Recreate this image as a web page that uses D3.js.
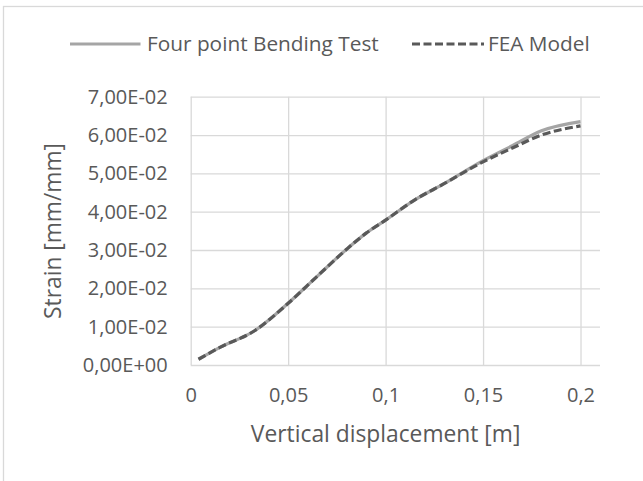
<!DOCTYPE html>
<html>
<head>
<meta charset="utf-8">
<script src="https://cdn.jsdelivr.net/npm/d3@7"></script>
<style>
  body { margin: 0; background: #fff; }
  text { font-family: "Open Sans", sans-serif; fill: #595959; }
</style>
</head>
<body>
<div id="chart"></div>
<script>
const FRAME_WIDTH = 643;
const FRAME_HEIGHT = 481;
const MARGINS = { left: 190.7, right: 43, top: 96.7, bottom: 116 };

const VIS_WIDTH = FRAME_WIDTH - MARGINS.left - MARGINS.right;
const VIS_HEIGHT = FRAME_HEIGHT - MARGINS.top - MARGINS.bottom;

// data
const displacement = [0.004, 0.015, 0.033, 0.05, 0.065, 0.08, 0.09, 0.1, 0.115, 0.13, 0.15, 0.165, 0.18, 0.2];
const testStrain = [0.0015, 0.0046, 0.0090, 0.0161, 0.0232, 0.0302, 0.0344, 0.0378, 0.0431, 0.0473, 0.0533, 0.0572, 0.0611, 0.0635];
const feaStrain = [0.0015, 0.0046, 0.0090, 0.0161, 0.0232, 0.0302, 0.0344, 0.0378, 0.0431, 0.0473, 0.0530, 0.0566, 0.0600, 0.0624];

const xTicks = [0, 0.05, 0.1, 0.15, 0.2];
const xTickLabels = ["0", "0,05", "0,1", "0,15", "0,2"];
const yTicks = [0, 0.01, 0.02, 0.03, 0.04, 0.05, 0.06, 0.07];
const yTickLabels = ["0,00E+00", "1,00E-02", "2,00E-02", "3,00E-02", "4,00E-02", "5,00E-02", "6,00E-02", "7,00E-02"];

const seriesNames = ["Four point Bending Test", "FEA Model"];

const TICK_FONT = "20px";
const TITLE_FONT = "22.8px";
const LEGEND_FONT = "20.8px";

const FRAME = d3.select("#chart")
	.append("svg")
	.attr("width", FRAME_WIDTH)
	.attr("height", FRAME_HEIGHT);

// chart border (only top and left visible)
FRAME.append("rect")
	.attr("x", 3.5)
	.attr("y", 6.5)
	.attr("width", FRAME_WIDTH + 20)
	.attr("height", FRAME_HEIGHT + 20)
	.attr("fill", "none")
	.attr("stroke", "#d9d9d9")
	.attr("stroke-width", 1.3);

const X_SCALE = d3.scaleLinear()
	.domain([0, 0.21])
	.range([0, VIS_WIDTH]);

const Y_SCALE = d3.scaleLinear()
	.domain([0, 0.07])
	.range([VIS_HEIGHT, 0]);

const PLOT = FRAME.append("g")
	.attr("transform", `translate(${MARGINS.left}, ${MARGINS.top})`);

// gridlines
PLOT.append("g")
	.call(d3.axisLeft(Y_SCALE).tickValues(yTicks).tickSize(-VIS_WIDTH).tickFormat(""))
	.call(g => g.select(".domain").remove())
	.selectAll("line")
	.attr("stroke", "#d9d9d9")
	.attr("stroke-width", 1.3);

PLOT.append("g")
	.attr("transform", `translate(0, ${VIS_HEIGHT})`)
	.call(d3.axisBottom(X_SCALE).tickValues(xTicks).tickSize(-VIS_HEIGHT).tickFormat(""))
	.call(g => g.select(".domain").remove())
	.selectAll("line")
	.attr("stroke", "#d9d9d9")
	.attr("stroke-width", 1.3);

// tick labels
const yAxis = PLOT.append("g")
	.call(d3.axisLeft(Y_SCALE).tickValues(yTicks).tickSize(0).tickPadding(23)
		.tickFormat((d, i) => yTickLabels[i]));
yAxis.select(".domain").remove();
yAxis.selectAll("text")
	.style("font-family", "'Open Sans', sans-serif")
	.style("font-size", TICK_FONT)
	.attr("fill", "#595959");

const xAxis = PLOT.append("g")
	.attr("transform", `translate(0, ${VIS_HEIGHT})`)
	.call(d3.axisBottom(X_SCALE).tickValues(xTicks).tickSize(0).tickPadding(23)
		.tickFormat((d, i) => xTickLabels[i]));
xAxis.select(".domain").remove();
xAxis.selectAll("text")
	.style("font-family", "'Open Sans', sans-serif")
	.style("font-size", TICK_FONT)
	.attr("fill", "#595959");

// lines
const testData = displacement.map((d, i) => ({ x: d, y: testStrain[i] }));
const feaData = displacement.map((d, i) => ({ x: d, y: feaStrain[i] }));

const LINE = d3.line()
	.x((d) => X_SCALE(d.x))
	.y((d) => Y_SCALE(d.y))
	.curve(d3.curveMonotoneX);

PLOT.append("path")
	.datum(testData)
	.attr("d", LINE)
	.attr("fill", "none")
	.attr("stroke", "#a5a5a5")
	.attr("stroke-width", 3.2)
	.attr("stroke-linejoin", "round");

PLOT.append("path")
	.datum(feaData)
	.attr("d", LINE)
	.attr("fill", "none")
	.attr("stroke", "#595959")
	.attr("stroke-width", 3.2)
	.attr("stroke-dasharray", "8 3.5");

// legend
const LEGEND = FRAME.append("g");
LEGEND.append("line")
	.attr("x1", 70).attr("x2", 140.5)
	.attr("y1", 44).attr("y2", 44)
	.attr("stroke", "#a5a5a5")
	.attr("stroke-width", 3.2);
LEGEND.append("text")
	.attr("x", 147).attr("y", 44)
	.attr("dy", "0.35em")
	.style("font-size", LEGEND_FONT)
	.text(seriesNames[0]);

LEGEND.append("line")
	.attr("x1", 412).attr("x2", 484)
	.attr("y1", 44).attr("y2", 44)
	.attr("stroke", "#595959")
	.attr("stroke-width", 3.2)
	.attr("stroke-dasharray", "8 3.5");
LEGEND.append("text")
	.attr("x", 488).attr("y", 44)
	.attr("dy", "0.35em")
	.style("font-size", LEGEND_FONT)
	.text(seriesNames[1]);

// axis titles
FRAME.append("text")
	.attr("transform", `translate(${MARGINS.left + X_SCALE(0.1)}, 434)`)
	.attr("dy", "0.35em")
	.style("text-anchor", "middle")
	.style("font-size", TITLE_FONT)
	.text("Vertical displacement [m]");

FRAME.append("text")
	.attr("transform", `translate(53, 231) rotate(-90)`)
	.attr("dy", "0.35em")
	.style("text-anchor", "middle")
	.style("font-size", TITLE_FONT)
	.text("Strain [mm/mm]");
</script>
</body>
</html>
